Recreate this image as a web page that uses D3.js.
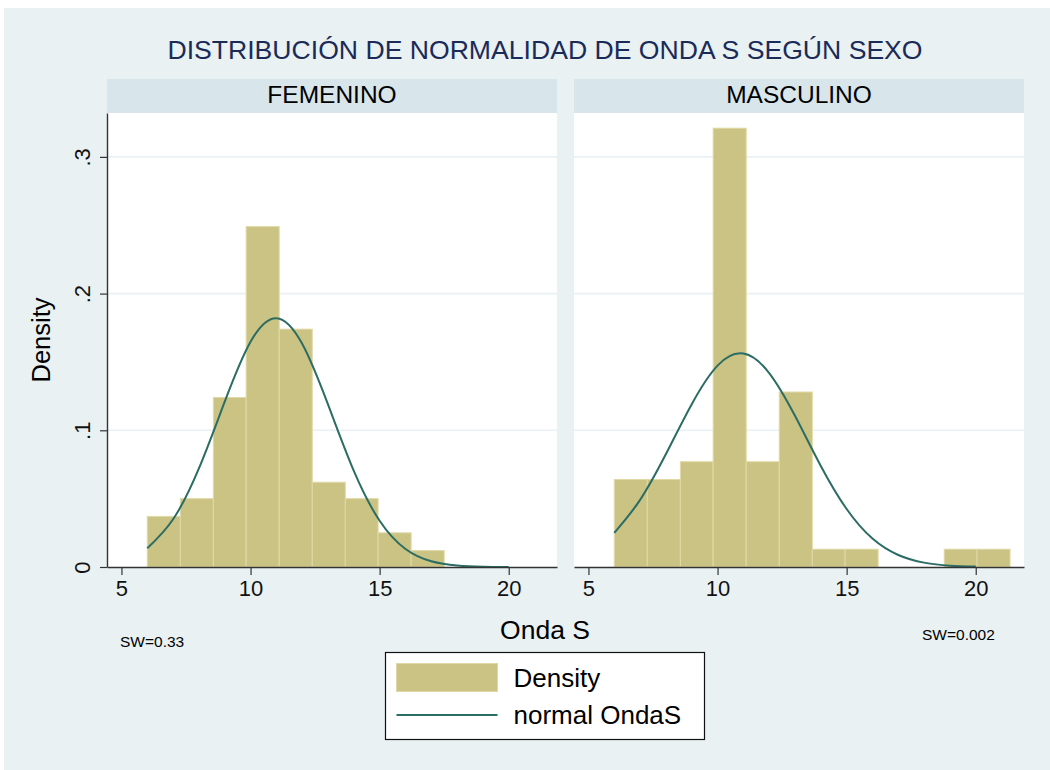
<!DOCTYPE html>
<html>
<head>
<meta charset="utf-8">
<script src="https://cdn.jsdelivr.net/npm/d3@7"></script>
<style>
  body { margin: 0; background: #fff; }
  svg { display: block; font-family: "Liberation Sans", Arial, Helvetica, sans-serif; }
</style>
</head>
<body>
<svg width="1050" height="770"></svg>
<script>
// bin edges shared by both panels (Onda S)
const binEdges = [6, 7.28, 8.56, 9.83, 11.11, 12.39, 13.67, 14.94, 16.22, 17.5, 18.78, 20.05, 21.33];

// histogram densities
const femDensity = [0.037, 0.050, 0.124, 0.249, 0.174, 0.062, 0.050, 0.025, 0.012];
const mascDensity = [0.064, 0.064, 0.077, 0.321, 0.077, 0.128, 0.013, 0.013, 0, 0, 0.013, 0.013];

// normal overlay, read at x = 6..20
const curveX = [6, 7, 8, 9, 10, 11, 12, 13, 14, 15, 16, 17, 18, 19, 20];
const femNormal = [0.0137, 0.0349, 0.0721, 0.1209, 0.1647, 0.1820, 0.1633, 0.1189, 0.0703, 0.0338, 0.0132, 0.0042, 0.0011, 0.0002, 0.0000];
const mascNormal = [0.0250, 0.0491, 0.0826, 0.1191, 0.1473, 0.1561, 0.1419, 0.1106, 0.0739, 0.0424, 0.0208, 0.0088, 0.0032, 0.0010, 0.0003];

const panelNames = ["FEMENINO", "MASCULINO"];
const swNotes = ["SW=0.33", "SW=0.002"];
const xTicks = [5, 10, 15, 20];
const yTicks = [0, 0.1, 0.2, 0.3];
const yTickLabels = ["0", ".1", ".2", ".3"];

const panels = [
  { name: panelNames[0], dens: femDensity, normal: femNormal, sw: swNotes[0] },
  { name: panelNames[1], dens: mascDensity, normal: mascNormal, sw: swNotes[1] },
];

const barFill = "#cbc383";
const barEdge = "#e0d9a6";
const lineColor = "#2b6c64";
const bg = "#e9f1f3";
const stripBg = "#d8e5ea";
const gridColor = "#eaf1f4";

const svg = d3.select("svg");
svg.append("rect").attr("x", 4).attr("y", 8).attr("width", 1046).attr("height", 762).attr("fill", bg);

const panelW = 450;
const panelLeft = [107, 574];
const plotTop = 113, plotBottom = 567;

const x = d3.scaleLinear([4.44, 21.87], [0, panelW]);
const y = d3.scaleLinear([0, 0.3321], [plotBottom, plotTop]);

// title
svg.append("text")
  .attr("x", 545).attr("y", 59)
  .attr("text-anchor", "middle")
  .attr("font-size", 26.6)
  .attr("fill", "#1a2b58")
  .text("DISTRIBUCIÓN DE NORMALIDAD DE ONDA S SEGÚN SEXO");

const line = d3.line()
  .x((d) => x(d[0]))
  .y((d) => y(d[1]))
  .curve(d3.curveNatural);

panels.forEach((p, k) => {
  const g = svg.append("g").attr("transform", `translate(${panelLeft[k]},0)`);

  // strip
  g.append("rect").attr("x", 0).attr("y", 79).attr("width", panelW).attr("height", plotTop - 79).attr("fill", stripBg);
  g.append("text")
    .attr("x", panelW / 2).attr("y", 103)
    .attr("text-anchor", "middle")
    .attr("font-size", 24.5)
    .text(p.name);

  // plot area
  g.append("rect").attr("x", 0).attr("y", plotTop).attr("width", panelW).attr("height", plotBottom - plotTop).attr("fill", "#fff");

  g.selectAll(".grid")
    .data(yTicks.slice(1))
    .join("line")
    .attr("x1", 0).attr("x2", panelW)
    .attr("y1", (d) => y(d)).attr("y2", (d) => y(d))
    .attr("stroke", gridColor).attr("stroke-width", 1.6);

  // bars
  g.selectAll(".bar")
    .data(p.dens)
    .join("rect")
    .attr("x", (d, i) => x(binEdges[i]))
    .attr("width", (d, i) => x(binEdges[i + 1]) - x(binEdges[i]))
    .attr("y", (d) => y(d))
    .attr("height", (d) => y(0) - y(d))
    .attr("fill", barFill)
    .attr("stroke", (d) => (d > 0 ? barEdge : "none"))
    .attr("stroke-width", 1);

  // normal curve
  g.append("path")
    .datum(curveX.map((v, i) => [v, p.normal[i]]))
    .attr("d", line)
    .attr("fill", "none")
    .attr("stroke", lineColor)
    .attr("stroke-width", 2);

  // x axis
  const xAxis = d3.axisBottom(x).tickValues(xTicks).tickSize(8).tickPadding(5).tickSizeOuter(0);
  const ax = g.append("g").attr("transform", `translate(0,${plotBottom})`).call(xAxis);
  ax.select(".domain").attr("stroke", "#333").attr("stroke-width", 1.4);
  ax.selectAll(".tick line").attr("stroke", "#333").attr("stroke-width", 1.2);
  ax.selectAll(".tick text").attr("font-size", 22).attr("fill", "#111").attr("font-family", null);

  // SW note
  g.append("text")
    .attr("x", k === 0 ? 13 : 348)
    .attr("y", k === 0 ? 647 : 640)
    .attr("font-size", 15.5)
    .text(p.sw);
});

// y axis on first panel
const yAxis = d3.axisLeft(y).tickValues(yTicks).tickFormat((d, i) => yTickLabels[i]).tickSize(7).tickPadding(5).tickSizeOuter(0);
const ay = svg.append("g").attr("transform", `translate(${panelLeft[0]},0)`).call(yAxis);
ay.select(".domain").attr("stroke", "#333").attr("stroke-width", 1.4);
ay.selectAll(".tick line").attr("stroke", "#333").attr("stroke-width", 1.2);
ay.selectAll(".tick text")
  .attr("font-size", 22).attr("fill", "#111").attr("font-family", null)
  .attr("text-anchor", "middle").attr("x", 0).attr("dy", 0)
  .attr("transform", "translate(-17,0) rotate(-90)");

// axis titles
svg.append("text")
  .attr("transform", "translate(50,340) rotate(-90)")
  .attr("text-anchor", "middle")
  .attr("font-size", 25.5)
  .text("Density");

svg.append("text")
  .attr("x", 545).attr("y", 639)
  .attr("text-anchor", "middle")
  .attr("font-size", 26.5)
  .text("Onda S");

// legend
const lg = svg.append("g").attr("transform", "translate(385.5,652.5)");
lg.append("rect").attr("width", 319).attr("height", 87).attr("fill", "#fff").attr("stroke", "#111").attr("stroke-width", 1.2);
lg.append("rect").attr("x", 11).attr("y", 11).attr("width", 101).attr("height", 28)
  .attr("fill", barFill).attr("stroke", barEdge).attr("stroke-width", 1);
lg.append("line").attr("x1", 11).attr("x2", 112).attr("y1", 62.5).attr("y2", 62.5)
  .attr("stroke", lineColor).attr("stroke-width", 2);
lg.append("text").attr("x", 128).attr("y", 34).attr("font-size", 26).text("Density");
lg.append("text").attr("x", 128).attr("y", 71).attr("font-size", 26).text("normal OndaS");
</script>
</body>
</html>
